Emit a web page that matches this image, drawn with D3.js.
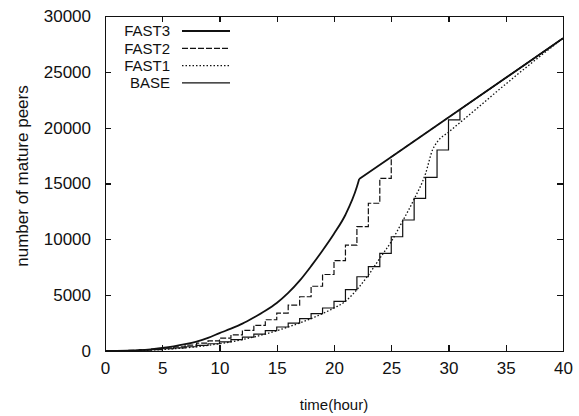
<!doctype html>
<html>

<head>
    <style>
        body {
            margin: 0;
            background: #fff;
        }

        .axis path,
        .axis line {
            stroke: #111;
            stroke-width: 1.2px;
            shape-rendering: crispEdges;
        }

        .axis text {
            font-family: "Liberation Sans", Arial, sans-serif;
            font-size: 17px;
            fill: #111;
        }

        .curve {
            fill: none;
            stroke: #111;
        }

        .legend text {
            font-family: "Liberation Sans", Arial, sans-serif;
            font-size: 15px;
            fill: #111;
            text-anchor: end;
        }

        .title {
            font-family: "Liberation Sans", Arial, sans-serif;
            fill: #111;
            text-anchor: middle;
        }
    </style>
    <script src="https://d3js.org/d3.v7.min.js"></script>
</head>

<body>
    <script>
        // tick values
        const xTicks = [0, 5, 10, 15, 20, 25, 30, 35, 40]
        const yTicks = [0, 5000, 10000, 15000, 20000, 25000, 30000]

        // FAST3: smooth growth up to the knee, then a straight line
        const fast3Hours = [0, 1, 2, 3, 4, 5, 6, 7, 8, 9, 10, 11, 12, 13, 14, 15, 16, 17, 18, 19, 20, 21, 22, 22.2]
        const fast3Values = [0, 10, 30, 70, 150, 270, 420, 610, 850, 1180, 1600, 2000, 2450, 3000, 3600, 4300, 5200, 6300, 7600, 9000, 10500, 12200, 14700, 15400]
        const lineHours = [22.2, 25, 31, 40]
        const lineValues = [15400, 17380, 21630, 28000]

        // FAST2: one level per hour until it joins the line at hour 25
        const fast2Levels = [0, 25, 60, 110, 180, 270, 380, 520, 700, 900, 1150, 1450, 1850, 2300, 2800, 3400, 4100, 4860, 5800, 6850, 8100, 9490, 11130, 13230, 15460]

        // BASE: one level per hour until it joins the line at hour 31
        const baseLevels = [0, 15, 40, 80, 130, 200, 280, 380, 500, 650, 820, 1020, 1250, 1520, 1820, 2150, 2500, 2900, 3350, 3850, 4450, 5500, 6650, 7550, 8750, 10230, 11730, 13670, 15550, 18000, 20690]

        // FAST1: smooth, dotted
        const fast1Hours = [0, 2, 4, 6, 8, 10, 12, 14, 16, 18, 19, 20, 21, 22, 23, 24, 25, 26, 27, 28, 28.6, 29, 30, 31, 32, 34, 36, 38, 40]
        const fast1Values = [0, 15, 80, 200, 380, 650, 1020, 1520, 2150, 2900, 3350, 3850, 4450, 5500, 6800, 8300, 9800, 11650, 13600, 15900, 18000, 18700, 19600, 20450, 21300, 23050, 24750, 26400, 28000]

        const svg = d3.select("body").append("svg")
            .attr("width", 579)
            .attr("height", 416)

        const x = d3.scaleLinear().domain([0, 40]).range([105, 563])
        const y = d3.scaleLinear().domain([0, 30000]).range([351, 16])

        // axes with inward ticks on all four sides
        svg.append("g").attr("class", "axis")
            .attr("transform", `translate(0,${y(0)})`)
            .call(d3.axisBottom(x).tickValues(xTicks).tickSize(-6).tickSizeOuter(0).tickPadding(11))
        svg.append("g").attr("class", "axis")
            .attr("transform", `translate(${x(0)},0)`)
            .call(d3.axisLeft(y).tickValues(yTicks).tickFormat(d3.format("d")).tickSize(-6).tickSizeOuter(0).tickPadding(14))
        svg.append("g").attr("class", "axis")
            .attr("transform", `translate(0,${y(30000)})`)
            .call(d3.axisTop(x).tickValues(xTicks).tickSize(-6).tickSizeOuter(0).tickFormat(""))
        svg.append("g").attr("class", "axis")
            .attr("transform", `translate(${x(40)},0)`)
            .call(d3.axisRight(y).tickValues(yTicks).tickSize(-6).tickSizeOuter(0).tickFormat(""))

        const smooth = d3.line().x(d => x(d[0])).y(d => y(d[1])).curve(d3.curveMonotoneX)
        const straight = d3.line().x(d => x(d[0])).y(d => y(d[1]))

        // turn hourly levels into a staircase, then follow the line to the end
        const stairs = (levels, joinHour) => {
            const pts = []
            levels.forEach((v, h) => {
                pts.push([h, v])
                pts.push([h + 1, v])
            })
            lineHours.forEach((h, i) => {
                if (h >= joinHour) pts.push([h, lineValues[i]])
            })
            return pts
        }

        const linePts = lineHours.map((h, i) => [h, lineValues[i]])

        // FAST1 dotted
        svg.append("path").attr("class", "curve")
            .attr("d", smooth(fast1Hours.map((h, i) => [h, fast1Values[i]])))
            .attr("stroke-width", 1.3)
            .attr("stroke-dasharray", "1.5,2")

        // BASE solid steps
        svg.append("path").attr("class", "curve")
            .attr("d", straight(stairs(baseLevels, baseLevels.length)))
            .attr("stroke-width", 1.2)

        // FAST2 dashed steps
        svg.append("path").attr("class", "curve")
            .attr("d", straight(stairs(fast2Levels, fast2Levels.length)))
            .attr("stroke-width", 1.2)
            .attr("stroke-dasharray", "6,2")

        // FAST3 solid
        svg.append("path").attr("class", "curve")
            .attr("d", smooth(fast3Hours.map((h, i) => [h, fast3Values[i]])))
            .attr("stroke-width", 1.8)
        svg.append("path").attr("class", "curve")
            .attr("d", straight(linePts))
            .attr("stroke-width", 1.8)

        // legend
        const legendItems = [
            { name: "FAST3", dash: null, w: 1.8 },
            { name: "FAST2", dash: "6,2", w: 1.2 },
            { name: "FAST1", dash: "1.5,2", w: 1.3 },
            { name: "BASE", dash: null, w: 1.2 }
        ]
        const legend = svg.append("g").attr("class", "legend")
        legendItems.forEach((d, i) => {
            const ly = 31 + i * 17.3
            legend.append("text")
                .attr("x", 170)
                .attr("y", ly)
                .attr("dy", "0.35em")
                .text(d.name)
            legend.append("line")
                .attr("x1", 182).attr("x2", 230)
                .attr("y1", ly).attr("y2", ly)
                .attr("stroke", "#111")
                .attr("stroke-width", d.w)
                .attr("stroke-dasharray", d.dash)
        })

        // axis titles
        svg.append("text").attr("class", "title")
            .attr("x", 334).attr("y", 410)
            .style("font-size", "15px")
            .text("time(hour)")
        svg.append("text").attr("class", "title")
            .attr("transform", "translate(22,176) rotate(-90)")
            .attr("dy", "0.35em")
            .style("font-size", "17px")
            .text("number of mature peers")
    </script>
</body>

</html>
